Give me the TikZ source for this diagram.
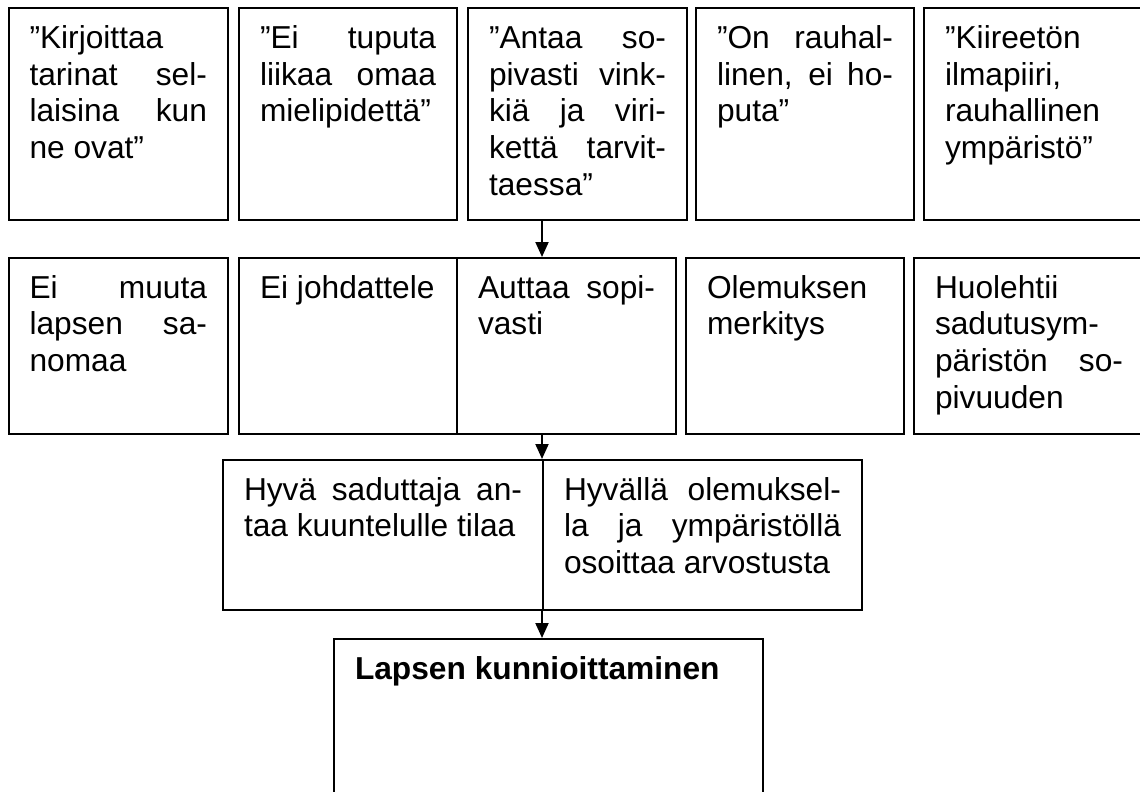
\documentclass[tikz,border=0pt]{standalone}
\usepackage{fontspec}
\setmainfont{Liberation Sans}
\usetikzlibrary{arrows.meta}
\newcommand{\celltext}[3]{\parbox[t][#2][t]{#1}{\tolerance=10000\hyphenpenalty=10000\rule{0pt}{20pt}#3}}

\begin{document}
\begin{tikzpicture}[x=0.5pt, y=-0.5pt,
  cell/.style={draw, line width=1pt, anchor=north west, inner xsep=10.5pt, inner ysep=0pt, font=\fontsize{15.85pt}{18.35pt}\selectfont},
  link/.style={line width=1pt, -{Triangle[width=6.5pt,length=7.5pt]}}]

  \useasboundingbox (0,0) rectangle (1140,792);
  \clip (0,0) rectangle (1140,792);
  \fill[white] (0,0) rectangle (1140,792);

  % Ylarivi
  \node[cell] (kirjoittaa) at (7.5,7.5) {\celltext{88.75pt}{105.5pt}{”Kirjoittaa\\ tarinat sel-\linebreak laisina kun\linebreak ne ovat”}};
  \node[cell] (tuputa) at (238,7.5) {\celltext{88pt}{105.5pt}{”Ei tuputa\linebreak liikaa omaa\linebreak mielipidettä”}};
  \node[cell] (antaa) at (467,7.5) {\celltext{88.5pt}{105.5pt}{”Antaa so-\linebreak pivasti vink-\linebreak kiä ja viri-\linebreak kettä tarvit-\linebreak taessa”}};
  \node[cell] (rauhallinen) at (695,7.5) {\celltext{88pt}{105.5pt}{”On rauhal-\linebreak linen, ei ho-\linebreak puta”}};
  \node[cell] (kiireeton) at (923,7.5) {\celltext{94pt}{105.5pt}{”Kiireetön\\ ilmapiiri,\\ rauhallinen\\ ympäristö”}};

  % Toinen rivi
  \node[cell] (muuta) at (7.5,257) {\celltext{88.75pt}{88pt}{Ei muuta\linebreak lapsen sa-\linebreak nomaa}};
  \node[cell] (johdattele) at (238,257) {\celltext{88pt}{88pt}{Ei johdattele}};
  \node[cell] (auttaa) at (456,257) {\celltext{88.5pt}{88pt}{Auttaa sopi-\linebreak vasti}};
  \node[cell] (olemus) at (685,257) {\celltext{88pt}{88pt}{Olemuksen\\ merkitys}};
  \node[cell] (huolehtii) at (913,257) {\celltext{94pt}{88pt}{Huolehtii\\ sadutusym-\\ päristön so-\linebreak pivuuden}};

  % Kolmas rivi
  \node[cell] (hyva) at (222,459) {\celltext{139pt}{75pt}{Hyvä saduttaja an-\linebreak taa kuuntelulle tilaa}};
  \node[cell] (arvostus) at (542,459) {\celltext{138.5pt}{75pt}{Hyvällä olemuksel-\linebreak la ja ympäristöllä\linebreak osoittaa arvostusta}};

  % Tulos
  \node[cell] (kunnioitus) at (333,638) {\celltext{193.5pt}{110pt}{\textbf{Lapsen kunnioittaminen}}};

  % Nuolet
  \coordinate (mid) at (542,0);
  \draw[link] (antaa.south -| mid) -- (auttaa.north -| mid);
  \draw[link] (auttaa.south -| mid) -- (hyva.north -| mid);
  \draw[link] (hyva.south -| mid) -- (kunnioitus.north -| mid);
\end{tikzpicture}
\end{document}
